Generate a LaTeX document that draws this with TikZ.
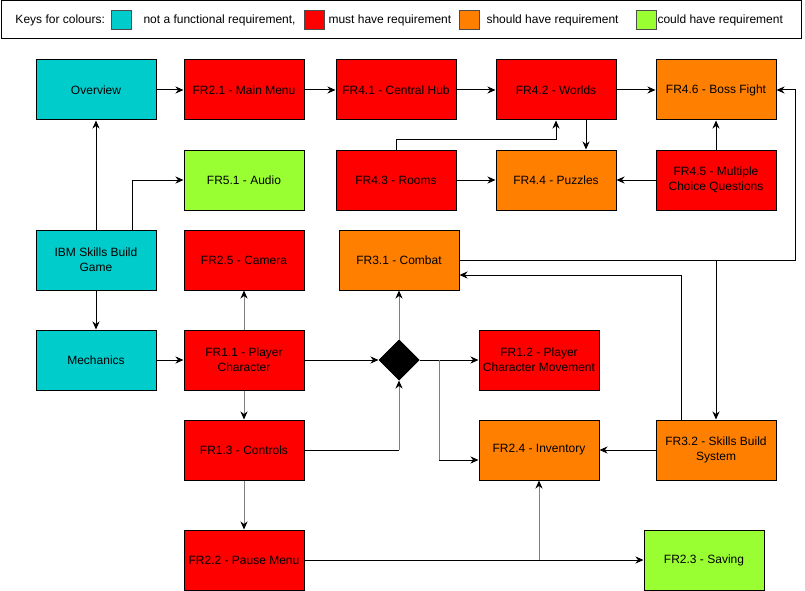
\documentclass[tikz,border=0pt]{standalone}
\usepackage{fontspec}
\setmainfont{Liberation Sans}
\usetikzlibrary{arrows.meta,positioning,shapes.geometric}
\definecolor{nfr}{RGB}{0,204,204}
\definecolor{must}{RGB}{255,0,0}
\definecolor{should}{RGB}{255,128,0}
\definecolor{could}{RGB}{153,255,51}
\tikzset{font=\fontsize{12}{15}\selectfont}
\tikzstyle{box}=[rectangle,draw=black,line width=1pt,minimum width=120pt,minimum height=60pt,inner sep=0pt,align=center]
\tikzstyle{key}=[rectangle,draw=black!70,line width=1pt,minimum width=20pt,minimum height=19pt,inner sep=0pt]
\tikzstyle{txt}=[anchor=west,inner sep=0pt]
\tikzstyle{greyline}=[draw=black!50,-{Stealth[length=8pt,width=7pt,inset=2.5pt,black]}]

\begin{document}
\begin{tikzpicture}[x=1pt,y=-1pt,line width=1pt,>={Stealth[length=8pt,width=7pt,inset=2.5pt]}]
\useasboundingbox (0,0) rectangle (805,591);
% keys
\draw (1,1) rectangle (801,39);
\node[txt] (K) at (15,20) {Keys for colours:};
\node[key,fill=nfr] (K1) at (121,20.5) {};
\node[txt] (T1) at (143,20) {not a functional requirement,};
\node[key,fill=must] (K2) at (314,20.5) {};
\node[txt] (T2) at (328,20) {must have requirement};
\node[key,fill=should] (K3) at (469,20.5) {};
\node[txt] (T3) at (486,20) {should have requirement};
\node[key,fill=could] (K4) at (646,20.5) {};
\node[txt] (T4) at (657,20) {could have requirement};
% boxes
\node[box,fill=nfr] (Ov) at (96,90) {Overview};
\node[box,fill=must] (MM) at (244,90) {FR2.1 - Main Menu};
\node[box,fill=must] (CH) at (396,90) {FR4.1 - Central Hub};
\node[box,fill=must] (W) at (556,90) {FR4.2 - Worlds};
\node[box,fill=should] (BF) at (716,90) {FR4.6 - Boss Fight};
\node[box,fill=could] (Au) at (244,180) {FR5.1 - Audio};
\node[box,fill=must] (Ro) at (396,180) {FR4.3 - Rooms};
\node[box,fill=should] (Pz) at (556,180) {FR4.4 - Puzzles};
\node[box,fill=must] (MC) at (716,180) {FR4.5 - Multiple\\Choice Questions};
\node[box,fill=nfr] (IBM) at (96,260) {IBM Skills Build\\Game};
\node[box,fill=must] (Cam) at (244,260) {FR2.5 - Camera};
\node[box,fill=should] (Cb) at (399,260) {FR3.1 - Combat};
\node[box,fill=nfr] (Me) at (96,360) {Mechanics};
\node[box,fill=must] (PC) at (244,360) {FR1.1 - Player\\Character};
\node[diamond,fill=black,draw=black,minimum width=40pt,minimum height=40pt,inner sep=0pt] (D) at (399,360) {};
\node[box,fill=must] (PCM) at (539,360) {FR1.2 - Player\\Character Movement};
\node[box,fill=must] (Ct) at (244,450) {FR1.3 - Controls};
\node[box,fill=should] (Inv) at (539,450) {FR2.4 - Inventory};
\node[box,fill=should] (SB) at (716,450) {FR3.2 - Skills Build\\System};
\node[box,fill=must] (PM) at (244,560) {FR2.2 - Pause Menu};
\node[box,fill=could] (Sv) at (704,560) {FR2.3 - Saving};
\coordinate (cR) at (795,260);
\coordinate (cP) at (Inv.south |- PM.east);
\coordinate (cC) at (D.south |- Ct.east);
\coordinate (cD) at (439,360);
\coordinate (cI) at (439,460);
% straight links
\path[->]
(Ov) edge (MM)
(MM) edge (CH)
(CH) edge (W)
(W) edge (BF)
(Ro) edge (Pz)
(MC) edge (Pz)
(MC) edge (BF)
(IBM) edge (Ov)
(IBM) edge (Me)
(Me) edge (PC)
(PC) edge (D)
(D) edge (PCM)
(SB) edge (Inv)
(PM) edge (Sv);
\path[greyline]
(PC) edge (Cam)
(PC) edge (Ct)
(D) edge (Cb)
(Ct) edge (PM);
\draw[greyline] (cP) -- (Inv.south);
% bent links
\draw[->] (Ro.north) -- ++(0,-10) -| (W.south);
\draw[->] ([xshift=30pt]W.south) -- ([xshift=30pt]Pz.north);
\draw[->] ([xshift=36pt]IBM.north) |- (Au.west);
\draw (Ct.east) -- (cC);
\draw[greyline] (cC) -- (D.south);
\draw[black!50] (cD) -- (cI);
\draw[->] (cI) -- ([yshift=-10pt]Inv.west);
\draw[->] ([xshift=-35pt]SB.north) |- ([yshift=-15pt]Cb.east);
\draw[->] (Cb.east) -- (cR) |- (BF.east);
\draw[->] (Cb.east) -| (SB.north);
\end{tikzpicture}
\end{document}
